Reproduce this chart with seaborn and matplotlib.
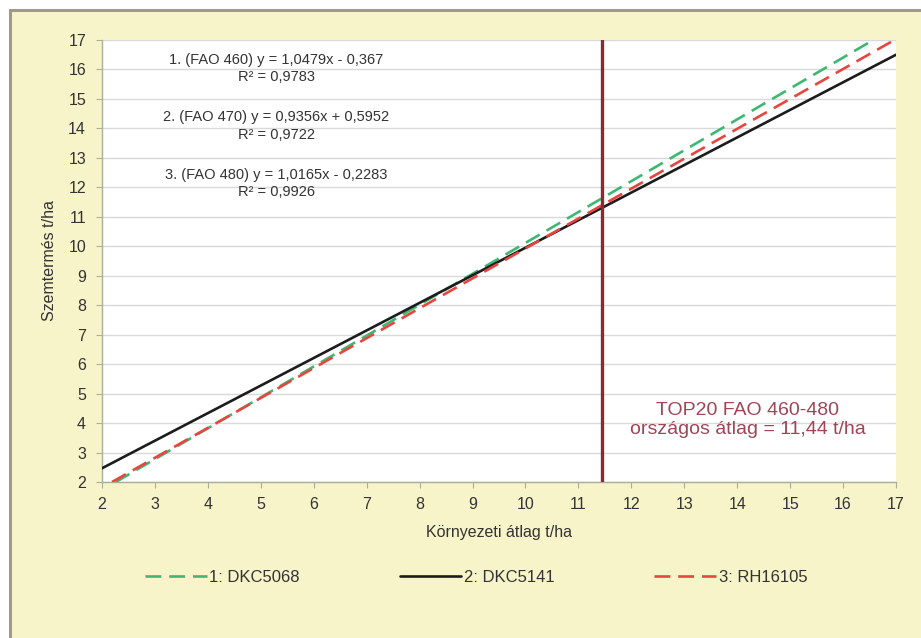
import matplotlib
matplotlib.use("Agg")
import matplotlib.pyplot as plt
import seaborn as sns
import pandas as pd
from matplotlib.patches import Rectangle

sns.set_theme(style="white")
plt.rcParams['font.family'] = ['Liberation Sans', 'DejaVu Sans']

# Data (trendline end points)
series_names = ["1: DKC5068", "2: DKC5141", "3: RH16105"]
x_dkc5068 = [2.26, 16.57]
y_dkc5068 = [2.0, 17.0]
x_dkc5141 = [2.0, 17.0]
y_dkc5141 = [2.466, 16.50]
x_rh16105 = [2.19, 16.97]
y_rh16105 = [2.0, 17.0]
national_avg = 11.44
equations = [
    "1. (FAO 460) y = 1,0479x - 0,367",
    "2. (FAO 470) y = 0,9356x + 0,5952",
    "3. (FAO 480) y = 1,0165x - 0,2283",
]
r_squared = ["R² = 0,9783", "R² = 0,9722", "R² = 0,9926"]
eq_y = [16.32, 14.39, 12.42]
r2_y = [15.74, 13.78, 11.84]
ticks = list(range(2, 18))

df = pd.concat([
    pd.DataFrame({"x": x_dkc5068, "y": y_dkc5068, "s": series_names[0]}),
    pd.DataFrame({"x": x_dkc5141, "y": y_dkc5141, "s": series_names[1]}),
    pd.DataFrame({"x": x_rh16105, "y": y_rh16105, "s": series_names[2]}),
])

W, H = 921, 638
fig = plt.figure(figsize=(W / 100, H / 100), dpi=100)
fig.patch.set_facecolor("white")
panel = Rectangle((10 / W, -0.01), 1.0, 1 - 10 / H + 0.01, transform=fig.transFigure,
                  facecolor="#f7f4ca", edgecolor="#9e9c88", linewidth=2.2, zorder=-10)
fig.add_artist(panel)

ax = fig.add_axes([102 / W, 1 - 482 / H, (896 - 102) / W, (482 - 40) / H])
ax.set_zorder(1)
ax.set_facecolor("white")

palette = {series_names[0]: "#3db872", series_names[1]: "#1c1c1c", series_names[2]: "#e8453f"}
dashes = {series_names[0]: (6, 3), series_names[1]: "", series_names[2]: (6, 3)}
sns.lineplot(data=df, x="x", y="y", hue="s", style="s", palette=palette, dashes=dashes,
             linewidth=1.9, ax=ax, legend=True, zorder=3)

ax.axvline(national_avg, color="#8b2a2f", linewidth=2.4, zorder=4)

ax.set_xlim(2, 17)
ax.set_ylim(2, 17)
ax.set_xticks(ticks)
ax.set_yticks(ticks)
ax.yaxis.grid(True, color="#d9d9d9", linewidth=1.0)
ax.xaxis.grid(False)
for side in ["top", "right"]:
    ax.spines[side].set_visible(False)
for side in ["left", "bottom"]:
    ax.spines[side].set_color("#a8b09a")
    ax.spines[side].set_linewidth(1.0)
ax.tick_params(axis="both", which="both", direction="out", length=4, width=0.8,
               color="#a8b09a", labelsize=11.5, labelcolor="#333333", bottom=True, left=True)
ax.tick_params(axis="x", pad=7)
ax.tick_params(axis="y", pad=7.5)
ax.set_xlabel("Környezeti átlag t/ha", fontsize=11.5, color="#333333", labelpad=9)
ax.set_ylabel("Szemtermés t/ha", fontsize=11.5, color="#333333", labelpad=8)

for eq, r2, ye, yr in zip(equations, r_squared, eq_y, r2_y):
    ax.text(5.29, ye, eq, ha="center", va="center", fontsize=10.5, color="#333333", zorder=5)
    ax.text(5.29, yr, r2, ha="center", va="center", fontsize=10.5, color="#333333", zorder=5)

ax.text(14.2, 4.1, "TOP20 FAO 460-480\nországos átlag = 11,44 t/ha", ha="center", va="center",
        fontsize=14, color="#a04456", linespacing=1.1, zorder=5)

handles, labels = ax.get_legend_handles_labels()
ax.legend_.remove()
fig.legend(handles, labels, loc="center", bbox_to_anchor=(476 / W, 1 - 577 / H), ncol=3,
           frameon=False, fontsize=12, handlelength=3.7, handletextpad=0.15,
           columnspacing=6.0, labelcolor="#333333")

fig.savefig("out.png", dpi=100)
